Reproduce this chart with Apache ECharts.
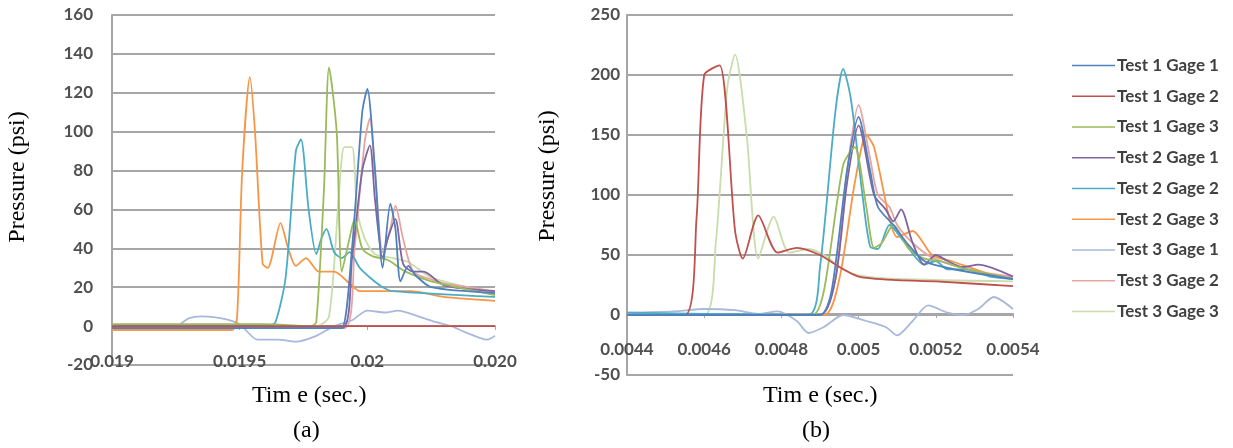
<!DOCTYPE html>
<html>
<head>
<meta charset="utf-8">
<script src="https://cdn.jsdelivr.net/npm/echarts@6/dist/echarts.min.js"></script>
<style>
  html, body { margin: 0; padding: 0; background: #fff; }
  #main { width: 1233px; height: 448px; }
</style>
</head>
<body>
<div id="main"></div>
<script>
// series names + colours (Excel 2007 palette)
var names = ['Test 1 Gage 1', 'Test 1 Gage 2', 'Test 1 Gage 3',
             'Test 2 Gage 1', 'Test 2 Gage 2', 'Test 2 Gage 3',
             'Test 3 Gage 1', 'Test 3 Gage 2', 'Test 3 Gage 3'];
var colors = ['#4F81BD', '#C0504D', '#9BBB59', '#8064A2', '#4BACC6', '#F79646',
              '#A9B8DC', '#E6A4A3', '#C9DCAB'];

// panel (a) tick labels
var aXLabels = ['0.019', '0.0195', '0.02', '0.020'];
// panel (b) tick labels
var bXLabels = ['0.0044', '0.0046', '0.0048', '0.005', '0.0052', '0.0054'];

// ---- panel (a): [time, psi] ----
var a_t1g1 = [[0.019, -1], [0.01985, -1], [0.01990, -1], [0.01994, 40], [0.01998, 110], [0.02000, 122],
  [0.02003, 80], [0.02006, 30], [0.02009, 63], [0.02011, 50], [0.02013, 23], [0.02016, 31],
  [0.02019, 26], [0.02025, 20], [0.0205, 17]];
var a_t1g2 = [[0.019, 0], [0.0199, 0], [0.0205, 0]];
var a_t1g3 = [[0.019, 1], [0.0196, 1], [0.01978, 0], [0.01980, 2], [0.01983, 70], [0.01985, 133],
  [0.01988, 100], [0.01990, 28], [0.01993, 45], [0.01995, 55], [0.01998, 40], [0.02002, 36],
  [0.02008, 34], [0.02015, 28], [0.02025, 23], [0.0205, 16]];
var a_t2g1 = [[0.019, -1], [0.01990, -1], [0.01994, 35], [0.01998, 80], [0.02001, 93],
  [0.02003, 65], [0.02006, 35], [0.02008, 45], [0.02011, 55], [0.02014, 32], [0.02018, 28],
  [0.02022, 28], [0.02030, 21], [0.0205, 18]];
var a_t2g2 = [[0.019, 0], [0.01961, 0], [0.01964, 2], [0.01968, 25], [0.01972, 90], [0.01974, 96],
  [0.01977, 60], [0.01980, 37], [0.01982, 45], [0.01984, 50], [0.01987, 38], [0.01990, 35],
  [0.01993, 38], [0.01997, 30], [0.02001, 25], [0.02006, 20], [0.0201, 18], [0.0205, 15]];
var a_t2g3 = [[0.019, -2], [0.01947, -2], [0.01949, 5], [0.01951, 80], [0.01954, 128], [0.01956, 100],
  [0.01959, 32], [0.01961, 30], [0.01966, 53], [0.01969, 40], [0.01972, 31], [0.01976, 35],
  [0.01981, 28], [0.01987, 28], [0.01993, 22], [0.01997, 18], [0.02017, 18],
  [0.02030, 15], [0.0205, 13]];
var a_t3g1 = [[0.019, 0], [0.01925, 0], [0.01930, 4], [0.01935, 5], [0.01943, 4], [0.01950, 1],
  [0.01957, -7], [0.01965, -7], [0.01972, -8], [0.01980, -5], [0.01987, 0], [0.01994, 3],
  [0.02000, 8], [0.02007, 7], [0.02012, 8], [0.02020, 5], [0.02027, 2], [0.02033, 0],
  [0.02038, -3], [0.02044, -6], [0.02047, -7], [0.0205, -5]];
var a_t3g2 = [[0.019, -1], [0.01991, -1], [0.01995, 40], [0.01999, 95], [0.02001, 107],
  [0.02003, 80], [0.02006, 38], [0.02009, 50], [0.02011, 62], [0.02014, 45], [0.02018, 28],
  [0.02025, 24], [0.02030, 22], [0.0205, 18]];
var a_t3g3 = [[0.019, 0], [0.01980, 0], [0.01985, 5], [0.01989, 70], [0.01991, 92], [0.01994, 92],
  [0.01996, 60], [0.01999, 45], [0.02003, 37], [0.02010, 35], [0.02016, 33], [0.02025, 25],
  [0.0205, 17]];

// ---- panel (b): [time, psi] ----
var b_t1g1 = [[0.0044, 0], [0.00490, 0], [0.00493, 20], [0.00497, 120], [0.00500, 165],
  [0.00503, 120], [0.00505, 90], [0.00509, 75], [0.00513, 58], [0.00517, 45], [0.00522, 40],
  [0.00530, 35], [0.0054, 30]];
var b_t1g2 = [[0.0044, 0], [0.00455, 0], [0.00458, 80], [0.00460, 200], [0.00464, 208],
  [0.00468, 70], [0.00470, 47], [0.00474, 83], [0.00479, 52], [0.00484, 56], [0.00490, 50],
  [0.00495, 40], [0.00500, 32], [0.00510, 29], [0.00520, 28], [0.0054, 24]];
var b_t1g3 = [[0.0044, 0], [0.00488, 0], [0.00491, 20], [0.00496, 125], [0.00499, 140],
  [0.00502, 90], [0.00504, 56], [0.00506, 60], [0.00509, 75], [0.00513, 55], [0.00517, 47],
  [0.00521, 45], [0.00528, 38], [0.0054, 30]];
var b_t2g1 = [[0.0044, 0], [0.00490, 0], [0.00494, 30], [0.00497, 110], [0.00500, 158],
  [0.00504, 100], [0.00507, 88], [0.00509, 78], [0.00511, 88], [0.00514, 60], [0.00517, 42],
  [0.00520, 50], [0.00523, 45], [0.00527, 40], [0.00531, 42], [0.0054, 32]];
var b_t2g2 = [[0.0044, 2], [0.00487, 0], [0.00490, 40], [0.00494, 170], [0.00496, 205],
  [0.00498, 180], [0.00501, 100], [0.00503, 57], [0.00505, 55], [0.00508, 75], [0.00512, 60],
  [0.00517, 42], [0.00520, 45], [0.00523, 38], [0.00528, 38], [0.00534, 32], [0.0054, 30]];
var b_t2g3 = [[0.0044, 0], [0.00491, 0], [0.00495, 30], [0.00499, 110], [0.00502, 150],
  [0.00504, 140], [0.00508, 80], [0.00510, 65], [0.00514, 70], [0.00519, 50], [0.00524, 45],
  [0.00533, 35], [0.0054, 30]];
var b_t3g1 = [[0.0044, 2], [0.00452, 3], [0.00460, 5], [0.00468, 4], [0.00474, 1], [0.00479, 3],
  [0.00484, -5], [0.00487, -15], [0.00491, -10], [0.00496, 0], [0.00502, -5], [0.00507, -10],
  [0.00510, -17], [0.00514, -5], [0.00518, 8], [0.00523, 2], [0.00527, 0], [0.00531, 5],
  [0.00535, 15], [0.0054, 5]];
var b_t3g2 = [[0.0044, 0], [0.00490, 0], [0.00494, 30], [0.00497, 120], [0.00500, 175],
  [0.00503, 130], [0.00505, 100], [0.00508, 90], [0.00510, 75], [0.00514, 60], [0.00519, 48],
  [0.00526, 40], [0.00533, 35], [0.0054, 32]];
var b_t3g3 = [[0.0044, 0], [0.00460, 0], [0.00463, 60], [0.00466, 190], [0.00468, 217],
  [0.00471, 150], [0.00474, 47], [0.00478, 82], [0.00482, 52], [0.00487, 55], [0.00491, 50],
  [0.00496, 38], [0.00500, 33], [0.00510, 30], [0.0054, 28]];

var aData = [a_t1g1, a_t1g2, a_t1g3, a_t2g1, a_t2g2, a_t2g3, a_t3g1, a_t3g2, a_t3g3];
var bData = [b_t1g1, b_t1g2, b_t1g3, b_t2g1, b_t2g2, b_t2g3, b_t3g1, b_t3g2, b_t3g3];

var tickFont = { color: '#505050', fontSize: 17, fontWeight: 'bold', fontFamily: 'Lato, "Open Sans", sans-serif' };
var serif = 'Liberation Serif, "DejaVu Serif", serif';
var gridLine = { show: true, lineStyle: { color: '#a6a6a6', width: 2 } };

// x axis sits on the y=0 gridline: offset pulls it up from the grid bottom
function xAxisFor(gridIndex, min, max, interval, labels, offset) {
  return {
    type: 'value', gridIndex: gridIndex, min: min, max: max, interval: interval,
    position: 'bottom', offset: offset,
    splitLine: { show: false },
    axisLine: { onZero: false, lineStyle: { color: '#a6a6a6', width: 2 } },
    axisTick: { show: true, length: 4, lineStyle: { color: '#a6a6a6' } },
    axisLabel: Object.assign({ margin: 27, formatter: function (v, i) { return labels[i]; } }, tickFont)
  };
}
function yAxisFor(gridIndex, min, max, interval, margin) {
  return {
    type: 'value', gridIndex: gridIndex, min: min, max: max, interval: interval,
    splitLine: gridLine,
    axisLine: { show: true, onZero: false, lineStyle: { color: '#a6a6a6', width: 2 } },
    axisTick: { show: false },
    axisLabel: Object.assign({ margin: margin }, tickFont)
  };
}

var series = [];
names.forEach(function (n, i) {
  [aData, bData].forEach(function (set, g) {
    series.push({
      name: n, type: 'line', xAxisIndex: g, yAxisIndex: g,
      data: set[i], smooth: 0.25, showSymbol: false, symbol: 'none',
      lineStyle: { color: colors[i], width: 1.8 }, itemStyle: { color: colors[i] },
      z: 10 - i
    });
  });
});

var myChart = echarts.init(document.getElementById('main'));
myChart.setOption({
  animation: false,
  backgroundColor: '#fff',
  grid: [
    { left: 112, right: 738, top: 15, bottom: 83 },
    { left: 627, right: 220, top: 15, bottom: 73 }
  ],
  xAxis: [
    xAxisFor(0, 0.019, 0.0205, 0.0005, aXLabels, -39),
    xAxisFor(1, 0.0044, 0.0054, 0.0002, bXLabels, -61)
  ],
  yAxis: [
    yAxisFor(0, -20, 160, 20, 19),
    yAxisFor(1, -50, 250, 50, 7)
  ],
  legend: {
    orient: 'vertical', left: 1072, top: 57, itemGap: 13.75, padding: 0,
    itemWidth: 43, itemHeight: 19,
    icon: 'path://M0,9 L43,9 L43,10.6 L0,10.6 Z',
    data: names,
    textStyle: { color: '#404040', fontSize: 17, fontWeight: 'bold', fontFamily: 'Lato, "Open Sans", sans-serif', padding: [0, 0, 0, -3] }
  },
  graphic: [
    { type: 'text', left: 252, top: 384, style: { text: 'Tim e (sec.)', font: '24px ' + serif, fill: '#000' } },
    { type: 'text', left: 763, top: 384, style: { text: 'Tim e (sec.)', font: '24px ' + serif, fill: '#000' } },
    { type: 'text', left: 293, top: 419, style: { text: '(a)', font: '24px ' + serif, fill: '#000' } },
    { type: 'text', left: 802, top: 419, style: { text: '(b)', font: '24px ' + serif, fill: '#000' } },
    { type: 'text', x: 18, y: 177, rotation: Math.PI / 2,
      style: { text: 'Pressure (psi)', font: '24px ' + serif, fill: '#000', align: 'center', verticalAlign: 'middle' } },
    { type: 'text', x: 548, y: 176, rotation: Math.PI / 2,
      style: { text: 'Pressure (psi)', font: '24px ' + serif, fill: '#000', align: 'center', verticalAlign: 'middle' } }
  ],
  series: series
});
</script>
</body>
</html>
